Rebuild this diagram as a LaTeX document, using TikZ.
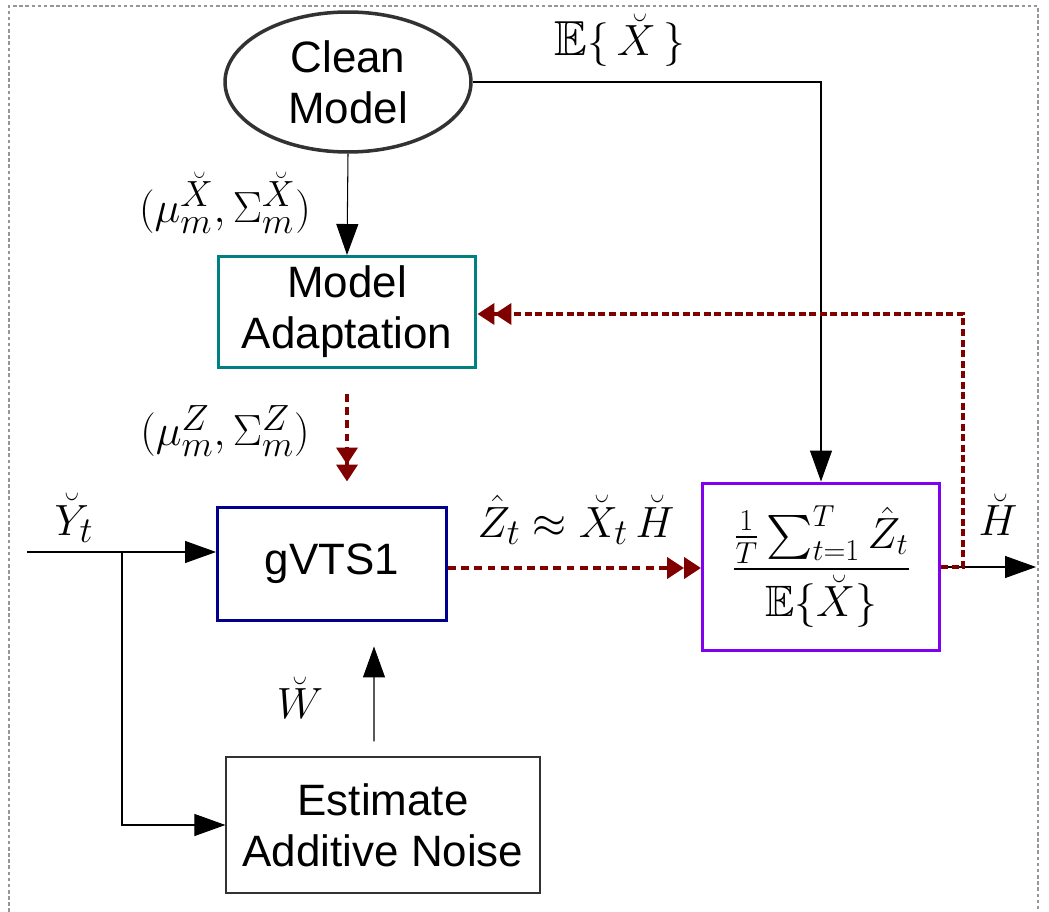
\documentclass[tikz,border=0pt]{standalone}
\usepackage{amsmath}
\usepackage{amssymb}
\usepackage{fontspec}
\setsansfont{Liberation Sans}
\usetikzlibrary{arrows.meta,shapes.geometric}
\definecolor{modelgrey}{RGB}{50,50,50}
\definecolor{adaptteal}{RGB}{0,128,128}
\definecolor{vtsnavy}{RGB}{0,0,140}
\definecolor{normviolet}{RGB}{130,0,240}
\definecolor{loopred}{RGB}{128,0,0}
\definecolor{framegrey}{RGB}{150,150,150}
\newcommand{\diagfont}{\fontsize{25}{29}\selectfont}
\newcommand{\labelfont}{\fontsize{28}{32}\selectfont}
\tikzset{
  flow/.style={-{Triangle[length=6.2mm,width=4.4mm]}, line width=0.6pt, draw=black},
  loop/.style={-{Triangle[length=3.4mm,width=4.2mm]Triangle[length=3.4mm,width=4.2mm]},
    line width=2.2pt, draw=loopred, dash pattern=on 4.5pt off 3pt},
  box/.style={
    draw,
    rectangle,
    inner sep=0pt,
    align=center,
    font=\diagfont\sffamily
  },
  tealbox/.style={box, draw=adaptteal, line width=1.7pt},
  navybox/.style={box, draw=vtsnavy, line width=1.7pt},
  violetbox/.style={box, draw=normviolet, line width=1.7pt, font=\diagfont},
  plainbox/.style={box, draw=modelgrey, line width=0.7pt},
  modelellipse/.style={ellipse, draw=modelgrey, line width=2pt, inner sep=0pt,
    align=center, font=\diagfont\sffamily},
  mathlabel/.style={font=\labelfont, inner sep=1pt}
}
\begin{document}
\begin{tikzpicture}[x=0.02cm,y=-0.02cm,every node/.style={font=\diagfont}]
  \useasboundingbox (0,0) rectangle (1049,912);
  \draw[framegrey, line width=1pt, dash pattern=on 2pt off 1.5pt] (9,912) -- (9,6) -- (1038,6) -- (1038,912);

  \node[modelellipse,minimum width=4.92cm,minimum height=2.8cm] (clean) at (348,82) {Clean\\Model};
  \node[tealbox,minimum width=5.16cm,minimum height=2.22cm] (adapt) at (347,312) {Model\\Adaptation};
  \node[navybox,minimum width=4.58cm,minimum height=2.28cm] (gvts) at (332,564) {gVTS1};
  \node[plainbox,minimum width=6.28cm,minimum height=2.72cm] (noise) at (383,825) {Estimate\\Additive Noise};
  \node[violetbox,minimum width=4.74cm,minimum height=3.36cm] (norm) at (821,567)
    {$\dfrac{\frac{1}{T}\sum_{t=1}^{T}\hat{Z}_t}{\mathbb{E}\{\breve{X}\}}$};

  \node[mathlabel] (meanx) at (620,40) {$\mathbb{E}\{\,\breve{X}\,\}$};
  \node[mathlabel] (cleanpar) at (225,203) {$(\mu_m^{\breve{X}},\Sigma_m^{\breve{X}})$};
  \node[mathlabel] (adaptpar) at (225,431) {$(\mu_m^{Z},\Sigma_m^{Z})$};
  \node[mathlabel] (ylabel) at (74,518) {$\breve{Y}_t$};
  \node[mathlabel] (wlabel) at (300,698) {$\breve{W}$};
  \node[mathlabel] (zlabel) at (576,520) {$\hat{Z}_t \approx \breve{X}_t\,\breve{H}$};
  \node[mathlabel] (hlabel) at (998,515) {$\breve{H}$};

  \coordinate (in) at (27,552);
  \coordinate (split) at (122,552);
  \coordinate (out) at (1036,567);

  \draw[flow] (clean.east) -| (norm.north);
  \draw[flow] (clean.south) -- (adapt.north);
  \draw[loop, shorten <=0.5cm, shorten >=0.48cm] (adapt.south) -- (adapt.south |- gvts.north);
  \draw[flow] (in) -- (in -| gvts.west);
  \draw[flow] (split) |- (noise.west);
  \draw[flow, shorten <=0.3cm, shorten >=0.48cm] ([xshift=-0.18cm]noise.north) -- ([xshift=0.84cm]gvts.south);
  \draw[loop] ([yshift=-0.08cm]gvts.east) -- ([yshift=-0.08cm]gvts.east -| norm.west);
  \draw[flow] (norm.east) -- (out);
  \draw[loop, dash pattern=on 4pt off 2pt] (norm.east) -- ++(22,0) |- ([yshift=-0.04cm]adapt.east);
\end{tikzpicture}
\end{document}
